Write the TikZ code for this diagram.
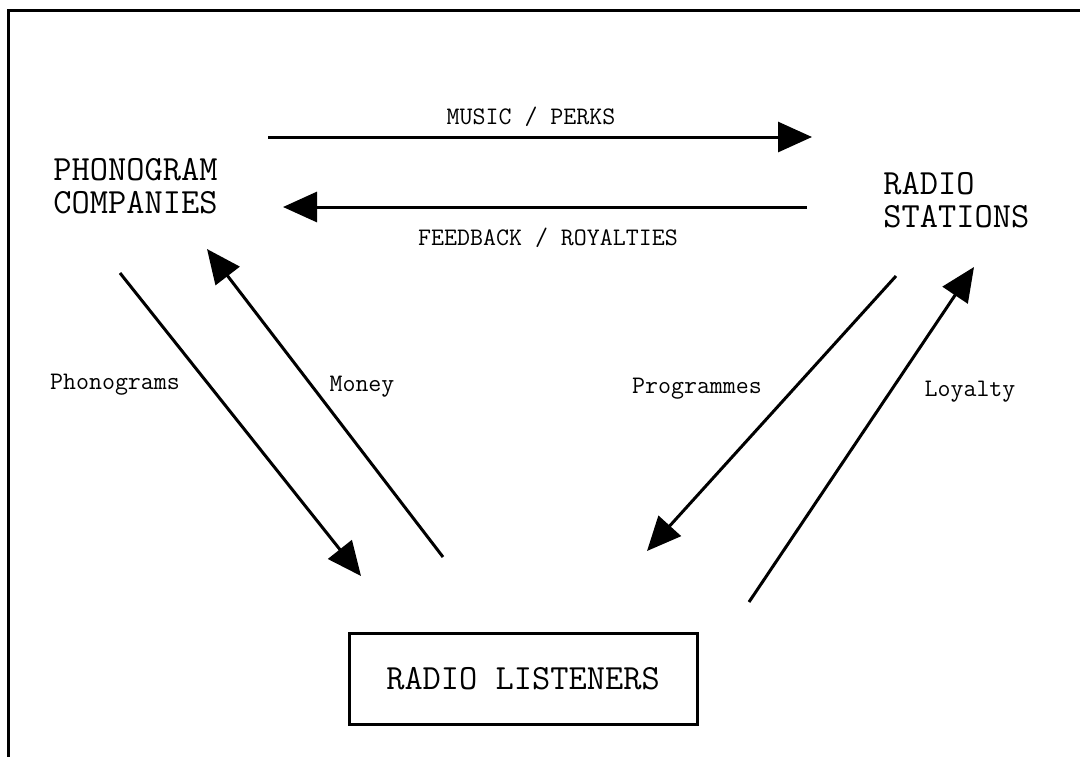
\documentclass[tikz,border=0pt]{standalone}
\usepackage{fontspec}
\usetikzlibrary{positioning,arrows.meta}

\begin{document}
\begin{tikzpicture}[
    x=0.5pt, y=-0.5pt,
    party/.style={font=\ttfamily\fontsize{17.7}{16.5}\selectfont, align=left, inner sep=0pt},
    listenerbox/.style={draw, line width=1.5pt, font=\ttfamily\fontsize{17.7}{16.5}\selectfont, minimum width=174pt, minimum height=45.5pt, inner sep=0pt},
    flow/.style={-{Triangle[length=17pt,width=15pt]}, line width=1.5pt},
    flowlabel/.style={font=\ttfamily\fontsize{12.6}{14}\selectfont, inner sep=1pt}
]

% Page and frame
\clip (0,0) rectangle (1080,756);
\fill[white] (0,0) rectangle (1080,756);
\draw[line width=1.5pt] (8.5,770) -- (8.5,10.5) -- (1090,10.5);

% Parties
\node[party, anchor=west] (phono) at (53,186) {PHONOGRAM\\COMPANIES};
\node[party, anchor=west] (radio) at (883,200) {RADIO\\STATIONS};
\node[listenerbox] (listen) at (523,678.5) {RADIO LISTENERS};

% Arrow ends
\coordinate (musicA) at (268,137);
\coordinate (musicB) at (812,137);
\coordinate (feedA) at (807,207);
\coordinate (feedB) at (283,207);
\coordinate (phonA) at (120,273);
\coordinate (phonB) at (361,576);
\coordinate (moneyA) at (443,557);
\coordinate (moneyB) at (207,249);
\coordinate (progA) at (896,276);
\coordinate (progB) at (647,551);
\coordinate (loyalA) at (749,602);
\coordinate (loyalB) at (974,267);

% Flows between companies and stations
\draw[flow] (musicA) -- (musicB);
\draw[flow] (feedA) -- (feedB);
\node[flowlabel] (musiclbl) at (531,117) {MUSIC / PERKS};
\node[flowlabel] (feedlbl) at (548,238) {FEEDBACK / ROYALTIES};

% Flows to and from listeners
\draw[flow] (phonA) -- (phonB);
\draw[flow] (moneyA) -- (moneyB);
\draw[flow] (progA) -- (progB);
\draw[flow] (loyalA) -- (loyalB);
\node[flowlabel] (phonlbl) at (115,385) {Phonograms};
\node[flowlabel] (moneylbl) at (362,387) {Money};
\node[flowlabel] (proglbl) at (697,389) {Programmes};
\node[flowlabel] (loyallbl) at (970,392) {Loyalty};

\end{tikzpicture}
\end{document}
